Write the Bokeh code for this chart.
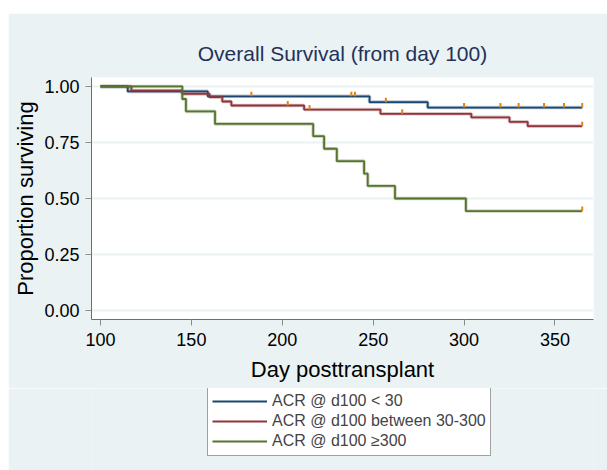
import numpy as np
from bokeh.plotting import figure
from bokeh.models import Range1d, FixedTicker, Legend, LegendItem
from bokeh.layouts import column
from bokeh.embed import file_html
from bokeh.resources import INLINE

# ---- data ----
lt30_days = [100, 115, 159, 248, 280, 365]
lt30_surv = [1.0, 0.978, 0.956, 0.930, 0.906, 0.906]
lt30_censor = [183, 238, 240, 257, 300, 320, 330, 344, 355, 365]

mid_days = [100, 117, 145, 160, 167, 172, 212, 254, 304, 325, 335, 365]
mid_surv = [1.0, 0.981, 0.967, 0.952, 0.933, 0.915, 0.897, 0.878, 0.862, 0.842, 0.823, 0.823]
mid_censor = [203, 215, 266, 365]

ge300_days = [100, 145, 147, 163, 217, 223, 230, 245, 247, 262, 301, 365]
ge300_surv = [1.0, 0.944, 0.889, 0.833, 0.778, 0.722, 0.667, 0.611, 0.556, 0.500, 0.444, 0.444]
ge300_censor = [365]

labels = ["ACR @ d100 < 30", "ACR @ d100 between 30-300", "ACR @ d100 \u2265300"]
colors = ["#1a476f", "#90353b", "#55752f"]

x_ticks = [100, 150, 200, 250, 300, 350]
y_ticks = [0, 0.25, 0.5, 0.75, 1.0]
y_tick_labels = ["0.00", "0.25", "0.50", "0.75", "1.00"]

BG = "#eaf2f3"
FONT = "Liberation Sans"

p = figure(width=599, height=375, output_backend="svg", toolbar_location=None,
           x_range=Range1d(95.05, 371.2), y_range=Range1d(-0.040, 1.040),
           min_border_left=83, min_border_right=14, min_border_top=64,
           min_border_bottom=69)
p.margin = (13, 0, 0, 8)
p.border_fill_color = BG
p.background_fill_color = "white"
p.outline_line_color = None

p.title.text = "Overall Survival (from day 100)"
p.title.text_font = FONT
p.title.text_font_size = "21px"
p.title.text_font_style = "normal"
p.title.text_color = "#22315a"
p.title.align = "center"
p.title.standoff = 25

p.xgrid.grid_line_color = None
p.ygrid.grid_line_color = BG
p.ygrid.grid_line_width = 2
p.ygrid.ticker = FixedTicker(ticks=y_ticks)

p.xaxis.ticker = FixedTicker(ticks=x_ticks)
p.yaxis.ticker = FixedTicker(ticks=y_ticks)
p.yaxis.major_label_overrides = {t: l for t, l in zip(y_ticks, y_tick_labels)}
p.xaxis.axis_label = "Day posttransplant"
p.yaxis.axis_label = "Proportion surviving"
for ax in (p.xaxis, p.yaxis):
    ax.axis_line_color = "#6e6e6e"
    ax.major_tick_line_color = "#8c8c8c"
    ax.major_tick_out = 6
    ax.major_tick_in = 0
    ax.minor_tick_line_color = None
    ax.major_label_text_font = FONT
    ax.major_label_text_font_size = "18px"
    ax.major_label_text_color = "black"
    ax.axis_label_text_font = FONT
    ax.axis_label_text_font_size = "22px"
    ax.axis_label_text_font_style = "normal"
    ax.axis_label_text_color = "black"
p.yaxis.major_label_orientation = "horizontal"
p.yaxis.major_label_standoff = 6
p.xaxis.major_label_standoff = 7
p.yaxis.axis_label_standoff = 3
p.xaxis.axis_label_standoff = 8

series = [(lt30_days, lt30_surv, lt30_censor),
          (mid_days, mid_surv, mid_censor),
          (ge300_days, ge300_surv, ge300_censor)]

for (d, s, c), col in zip(series, colors):
    p.step(d, s, mode="after", line_color=col, line_width=3.6, line_alpha=0.3)
    p.step(d, s, mode="after", line_color=col, line_width=1.8)
    d_arr = np.array(d)
    s_arr = np.array(s)
    idx = np.searchsorted(d_arr, np.array(c), side="right") - 1
    cy = s_arr[idx]
    p.segment(x0=c, y0=cy, x1=c, y1=cy + 0.02, line_color="#e8820c", line_width=2)

# legend panel as a second figure underneath (same background, frame aligned with p)
lg = figure(width=599, height=82, output_backend="svg", toolbar_location=None,
            x_axis_type=None, y_axis_type=None,
            min_border_left=83, min_border_right=14, min_border_top=0, min_border_bottom=0,
            x_range=Range1d(0, 1), y_range=Range1d(0, 1))
lg.margin = (0, 0, 0, 8)
lg.border_fill_color = BG
lg.background_fill_color = BG
lg.outline_line_color = None
lg.grid.grid_line_color = None

items = []
for col, lab in zip(colors, labels):
    r = lg.line(x=[-5, -4], y=[-5, -5], line_color=col, line_width=1.8)
    items.append(LegendItem(label=lab, renderers=[r]))

legend = Legend(items=items, location=(116, 14), orientation="vertical")
legend.border_line_color = "#444444"
legend.border_line_width = 1
legend.background_fill_color = "white"
legend.background_fill_alpha = 1
legend.label_text_font = FONT
legend.label_text_font_size = "16px"
legend.glyph_width = 55
legend.glyph_height = 20
legend.label_height = 20
legend.spacing = 0
legend.padding = 4
legend.label_standoff = 5
legend.margin = 0
lg.add_layout(legend, "center")

layout = column(p, lg, spacing=0)
open("out.html", "w").write(file_html(layout, INLINE))
